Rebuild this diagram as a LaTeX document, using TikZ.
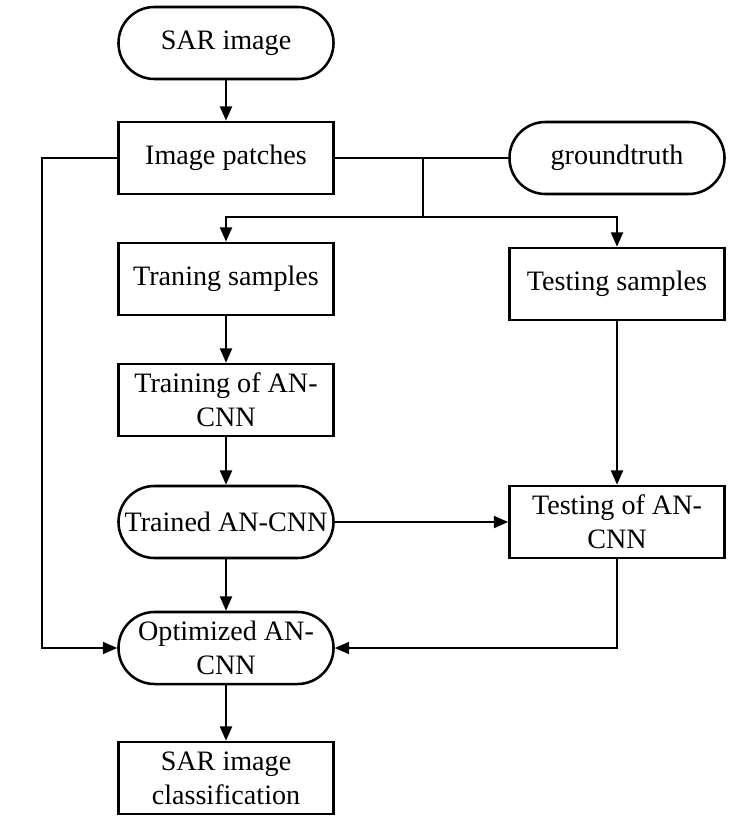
\documentclass[tikz,border=0pt]{standalone}
\usepackage{fontspec}
\setmainfont{Liberation Serif}
\usetikzlibrary{arrows.meta,positioning}
\tikzset{
        box/.style={draw, line width=1.8pt, minimum width=5.375cm, minimum height=1.8cm,
            inner sep=0pt, align=center, font=\fontsize{20}{24}\selectfont},
        roundbox/.style={box, rounded corners=0.9cm},
        link/.style={line width=1.6pt},
        flow/.style={link, -{Triangle[length=0.36cm, width=0.3cm]}},
    }

\begin{document}
\begin{tikzpicture}[x = 0.025cm, y = -0.025cm]
                \useasboundingbox (0,0) rectangle (731,820);
                % left column
                \node[roundbox] (sar) at (226,43) {SAR image};
                \node[box] (patches) at (226,158) {Image patches};
                \node[box] (trainS) at (226,279) {Traning samples};
                \node[box] (trainNet) at (226,400) {Training of AN-\\CNN};
                \node[roundbox] (trained) at (226,522) {Trained AN-CNN};
                \node[roundbox] (optim) at (226,648) {Optimized AN-\\CNN};
                \node[box] (result) at (226,778) {SAR image\\classification};
                % right column
                \node[roundbox] (truth) at (617,158) {groundtruth};
                \node[box] (testS) at (617,284) {Testing samples};
                \node[box] (testNet) at (617,522) {Testing of AN-\\CNN};
                \coordinate (split) at (423,158);
                \coordinate (fork) at (423,217);
                \coordinate (side) at (42,158);
                % connectors
                \draw[flow] (sar) -- (patches);
                \draw[link] (patches) -- (truth);
                \draw[link] (split) -- (fork);
                \draw[flow] (fork) -| (trainS);
                \draw[flow] (fork) -| (testS);
                \draw[flow] (trainS) -- (trainNet);
                \draw[flow] (trainNet) -- (trained);
                \draw[flow] (trained) -- (testNet);
                \draw[flow] (testS) -- (testNet);
                \draw[flow] (trained) -- (optim);
                \draw[flow] (patches) -- (side) |- (optim);
                \draw[flow] (testNet) |- (optim);
                \draw[flow] (optim) -- (result);
            \end{tikzpicture}
\end{document}
